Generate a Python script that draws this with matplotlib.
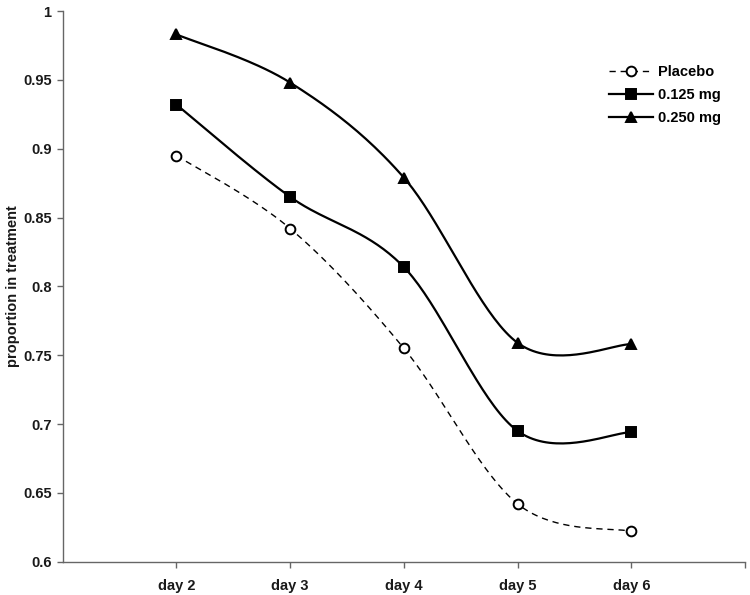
import numpy as np
import matplotlib
matplotlib.use("Agg")
from matplotlib import pyplot as plt
from matplotlib.lines import Line2D

plt.rcParams["font.family"] = ["Liberation Sans", "DejaVu Sans"]
plt.rcParams["font.weight"] = "bold"

days = ["day 2", "day 3", "day 4", "day 5", "day 6"]
placebo = [0.895, 0.842, 0.755, 0.642, 0.622]
dose_125 = [0.932, 0.865, 0.814, 0.695, 0.694]
dose_250 = [0.983, 0.948, 0.879, 0.759, 0.758]


def smooth(x, y, n=40):
    # excel style smoothed line: bezier with catmull-rom tangents
    x = np.asarray(x, float)
    y = np.asarray(y, float)
    px = np.concatenate([[x[0]], x, [x[-1]]])
    py = np.concatenate([[y[0]], y, [y[-1]]])
    t = np.linspace(0, 1, n)
    xs, ys = [], []
    for i in range(1, len(px) - 2):
        p0 = np.array([px[i], py[i]])
        p3 = np.array([px[i + 1], py[i + 1]])
        p1 = p0 + (p3 - np.array([px[i - 1], py[i - 1]])) / 6
        p2 = p3 - (np.array([px[i + 2], py[i + 2]]) - p0) / 6
        b = ((1 - t) ** 3)[:, None] * p0 + (3 * (1 - t) ** 2 * t)[:, None] * p1 \
            + (3 * (1 - t) * t ** 2)[:, None] * p2 + (t ** 3)[:, None] * p3
        xs.append(b[:, 0])
        ys.append(b[:, 1])
    return np.concatenate(xs), np.concatenate(ys)


fig = plt.figure(figsize=(7.5, 5.95), dpi=100)
ax = fig.add_axes([0.0836, 0.056, 0.9097, 0.9255])

xpos = np.arange(2, 2 + len(days))
fs = 10.5

series = [
    (placebo, "Placebo", "o", "white", (0, (4.5, 3.5)), 1.0, 7),
    (dose_125, "0.125 mg", "s", "black", "-", 1.6, 7.5),
    (dose_250, "0.250 mg", "^", "black", "-", 1.6, 7.5),
]

handles = []
for vals, name, mk, fc, ls, lw, ms in series:
    sx, sy = smooth(xpos, vals)
    ax.plot(sx, sy, color="black", linestyle=ls, linewidth=lw, zorder=2)
    ax.plot(xpos, vals, linestyle="none", marker=mk, markersize=ms,
            markerfacecolor=fc, markeredgecolor="black", markeredgewidth=1.4, zorder=3)
    handles.append(Line2D([], [], color="black", linestyle=ls, linewidth=lw, marker=mk,
                          markersize=ms, markerfacecolor=fc, markeredgecolor="black",
                          markeredgewidth=1.4, label=name))

ax.set_xlim(1, 7)
ax.set_ylim(0.6, 1.0)
ax.set_xticks(xpos)
ax.set_xticklabels(days)
ax.set_xticks([7], minor=True)
ax.set_yticks(np.arange(0.6, 1.001, 0.05))
ax.set_yticklabels(["0.6", "0.65", "0.7", "0.75", "0.8", "0.85", "0.9", "0.95", "1"])

for s in ["top", "right"]:
    ax.spines[s].set_visible(False)
for s in ["left", "bottom"]:
    ax.spines[s].set_color("#666666")
    ax.spines[s].set_linewidth(1.0)

ax.tick_params(axis="both", which="both", direction="out", length=4.5, width=1.0,
               color="#666666", labelsize=fs, labelcolor="#1a1a1a")
ax.tick_params(axis="x", pad=8)
ax.tick_params(axis="y", pad=3.5)

ax.set_ylabel("proportion in treatment", fontsize=fs, fontweight="bold", color="#1a1a1a", labelpad=2)

ax.legend(handles=handles, loc="upper left", bbox_to_anchor=(0.782, 0.926), frameon=False,
          fontsize=fs, handlelength=3.0, handletextpad=0.35, labelspacing=0.62)

fig.savefig("out.png", dpi=100)
